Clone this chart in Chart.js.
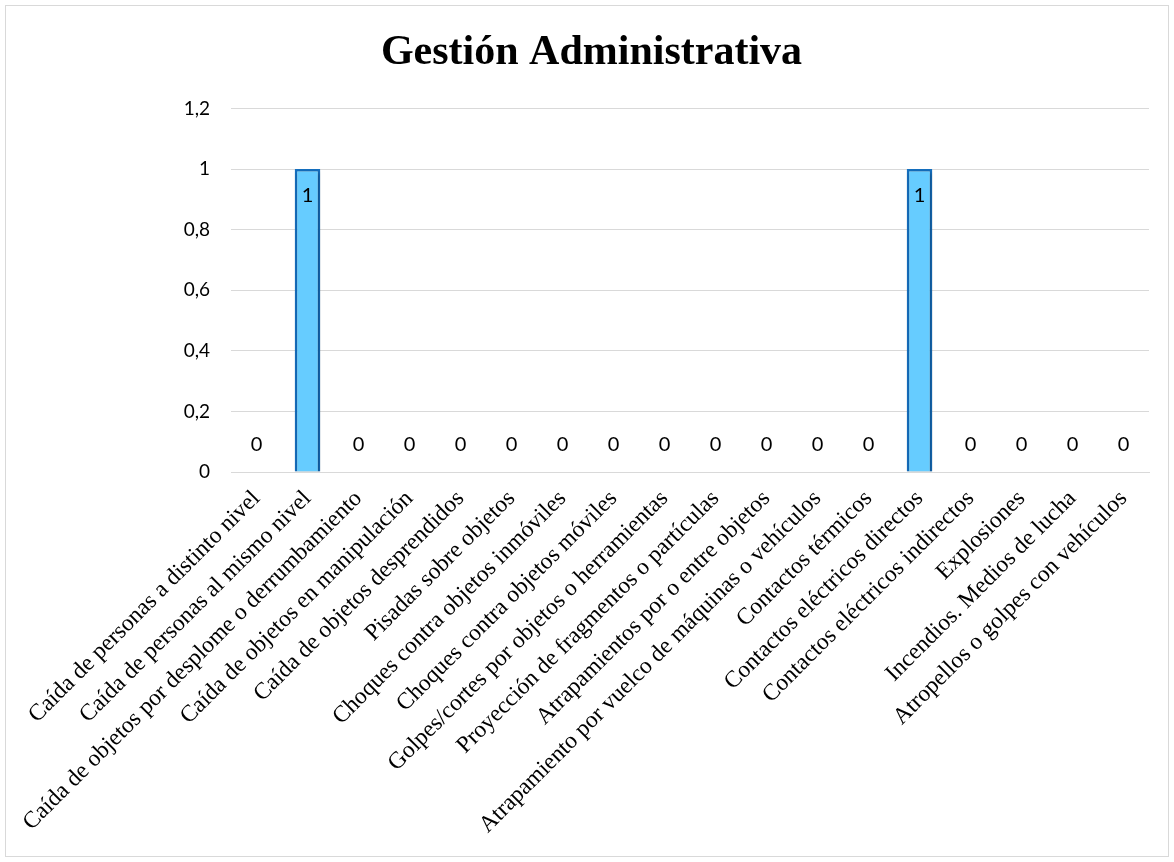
<!DOCTYPE html>
<html>
<head>
<meta charset="utf-8">
<script src="https://cdn.jsdelivr.net/npm/chart.js@4.4.1/dist/chart.umd.min.js"></script>
<style>
  html, body { margin: 0; padding: 0; background: #ffffff; }
  #wrap { width: 1174px; height: 862px; position: relative; }
</style>
</head>
<body>
<div id="wrap"><canvas id="chart" width="1174" height="862"></canvas></div>
<script>
const categories = [
	"Caída de personas a distinto nivel",
	"Caída de personas al mismo nivel",
	"Caída de objetos por desplome o derrumbamiento",
	"Caída de objetos en manipulación",
	"Caída de objetos desprendidos",
	"Pisadas sobre objetos",
	"Choques contra objetos inmóviles",
	"Choques contra objetos móviles",
	"Golpes/cortes por objetos o herramientas",
	"Proyección de fragmentos o partículas",
	"Atrapamientos por o entre objetos",
	"Atrapamiento por vuelco de máquinas o vehículos",
	"Contactos térmicos",
	"Contactos eléctricos directos",
	"Contactos eléctricos indirectos",
	"Explosiones",
	"Incendios. Medios de lucha",
	"Atropellos o golpes con vehículos"
];
const values = [0, 1, 0, 0, 0, 0, 0, 0, 0, 0, 0, 0, 0, 1, 0, 0, 0, 0];
const chartTitle = "Gestión Administrativa";

function formatTick(v)
{
	return String(Math.round(v * 10) / 10).replace('.', ',');
}

// outer frame of the chart area
const framePlugin = {
	id: 'frame',
	beforeDraw(chart)
	{
		const ctx = chart.ctx;
		ctx.save();
		ctx.fillStyle = '#ffffff';
		ctx.fillRect(0, 0, chart.width, chart.height);
		ctx.strokeStyle = '#d9d9d9';
		ctx.lineWidth = 1;
		ctx.strokeRect(5.5, 5.5, chart.width - 11, chart.height - 11);
		ctx.restore();
	}
};

// soft shadow behind the bars
const shadowPlugin = {
	id: 'barShadow',
	beforeDatasetDraw(chart)
	{
		const ctx = chart.ctx;
		ctx.save();
		ctx.shadowColor = 'rgba(0,0,0,0.35)';
		ctx.shadowBlur = 4;
		ctx.shadowOffsetX = 1;
		ctx.shadowOffsetY = 1;
	},
	afterDatasetDraw(chart)
	{
		chart.ctx.restore();
	}
};

// value labels: inside the end of the bar, zeros just above the axis
const valueLabels = {
	id: 'valueLabels',
	afterDatasetsDraw(chart)
	{
		const ctx = chart.ctx;
		const meta = chart.getDatasetMeta(0);
		ctx.save();
		ctx.font = '20px Lato, "Open Sans", sans-serif';
		ctx.fillStyle = '#000000';
		ctx.textAlign = 'center';
		ctx.textBaseline = 'middle';
		meta.data.forEach((bar, i) =>
		{
			const v = values[i];
			let y;
			if (v > 0)
				y = bar.y + 27;
			else
				y = bar.base - 27;
			ctx.fillText(formatTick(v), bar.x, y);
		});
		ctx.restore();
	}
};

Chart.defaults.color = '#000000';
const chart = new Chart(document.getElementById('chart'),
{
	type: 'bar',
	data:
	{
		labels: categories,
		datasets: [{
			data: values,
			backgroundColor: '#66ccff',
			borderColor: '#1570c0',
			borderWidth: 2.5,
			barPercentage: 0.5,
			categoryPercentage: 1.0
		}]
	},
	options:
	{
		responsive: false,
		animation: false,
		layout:
		{
			padding: { left: 34, right: 25, top: 12, bottom: 6 }
		},
		plugins:
		{
			title:
			{
				display: true,
				text: chartTitle,
				color: '#000000',
				font: { size: 42, family: '"Liberation Serif", "Times New Roman", serif', weight: 'bold' },
				padding: { top: 16, bottom: 30 }
			},
			legend: { display: false },
			tooltip: { enabled: false }
		},
		scales:
		{
			x:
			{
				grid: { display: false },
				border: { color: '#d9d9d9', width: 1 },
				afterFit: (scale) => { scale.height = 384; },
				ticks:
				{
					autoSkip: false,
					maxRotation: 45,
					minRotation: 45,
					padding: 5,
					color: '#000000',
					font: { size: 23.5, family: '"Liberation Serif", "Times New Roman", serif' }
				}
			},
			y:
			{
				min: 0,
				max: 1.2,
				border: { display: false },
				grid: { color: '#d9d9d9', lineWidth: 1, drawTicks: false },
				afterFit: (scale) => { scale.width = 197; },
				ticks:
				{
					stepSize: 0.2,
					padding: 21,
					color: '#000000',
					font: { size: 19, family: 'Lato, "Open Sans", sans-serif' },
					callback: (v) => formatTick(v)
				}
			}
		}
	},
	plugins: [framePlugin, shadowPlugin, valueLabels]
});
</script>
</body>
</html>
